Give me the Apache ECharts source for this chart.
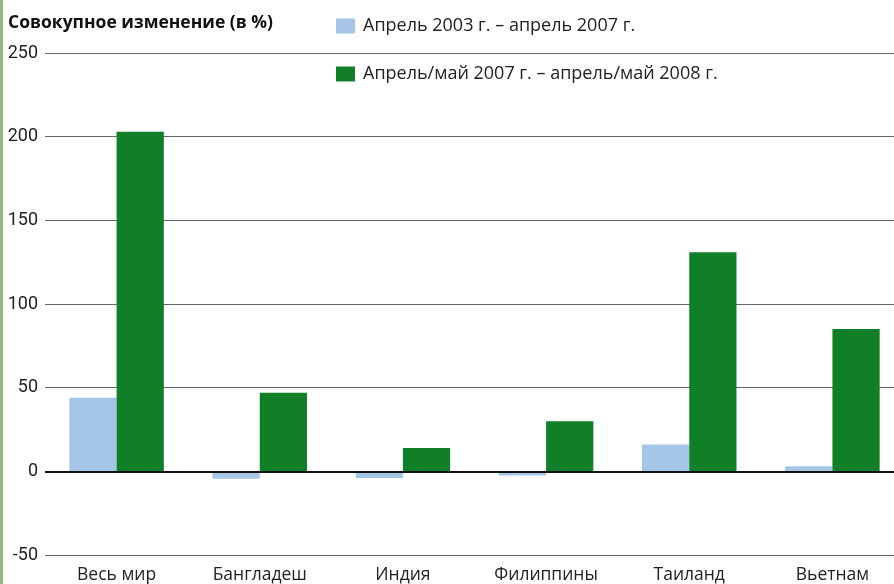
<!DOCTYPE html>
<html>
<head>
<meta charset="utf-8">
<script src="https://cdn.jsdelivr.net/npm/echarts@6/dist/echarts.min.js"></script>
<style>
  html, body { margin: 0; padding: 0; background: #fff; }
  #chart { width: 894px; height: 584px; }
</style>
</head>
<body>
<div id="chart"></div>
<script>
const categories = ['Весь мир', 'Бангладеш', 'Индия', 'Филиппины', 'Таиланд', 'Вьетнам'];
const period1Name = 'Апрель 2003 г. – апрель 2007 г.';
const period2Name = 'Апрель/май 2007 г. – апрель/май 2008 г.';
const period1 = [44, -4.5, -4, -2.5, 16, 3];
const period2 = [203, 47, 14, 30, 131, 85];
const yTicks = { min: -50, max: 250, step: 50 };

const chart = echarts.init(document.getElementById('chart'));

chart.setOption({
  animation: false,
  grid: { left: 45, width: 859, top: 53, bottom: 29, outerBoundsMode: 'none' },
  graphic: [
    { type: 'rect', left: 0, top: 0, shape: { width: 3, height: 584 }, style: { fill: '#8fc07f' } },
    {
      type: 'text', left: 8, top: 14,
      style: { text: 'Совокупное изменение (в %)', font: 'bold 17.5px "Open Sans"', fill: '#111' }
    }
  ],
  legend: {
    orient: 'vertical',
    left: 336,
    top: 17,
    padding: 0,
    itemWidth: 19,
    itemHeight: 15,
    itemGap: 30,
    icon: 'rect',
    textStyle: { fontFamily: 'Open Sans', fontSize: 18, lineHeight: 18, color: '#222', padding: [0, 0, 0, 3] },
    data: [period1Name, period2Name]
  },
  xAxis: {
    type: 'category',
    data: categories,
    axisLine: { show: false },
    axisTick: { show: false },
    axisLabel: { fontFamily: 'Open Sans', fontSize: 17.5, color: '#222', margin: 11 }
  },
  yAxis: {
    type: 'value',
    min: yTicks.min,
    max: yTicks.max,
    interval: yTicks.step,
    axisLine: { show: false },
    axisTick: { show: false },
    axisLabel: { fontFamily: 'Roboto', fontSize: 18, color: '#222', margin: 7 },
    splitLine: { lineStyle: { color: '#666', width: 1 } }
  },
  series: [
    {
      name: period1Name,
      type: 'bar',
      data: period1,
      barGap: '0%',
      barCategoryGap: '34%',
      itemStyle: { color: '#a6c6e7' },
      markLine: {
        silent: true,
        symbol: 'none',
        label: { show: false },
        lineStyle: { color: '#111', width: 2, type: 'solid' },
        data: [{ yAxis: 0 }],
        z: 5
      }
    },
    {
      name: period2Name,
      type: 'bar',
      data: period2,
      itemStyle: { color: '#107f28' }
    }
  ]
});
</script>
</body>
</html>
